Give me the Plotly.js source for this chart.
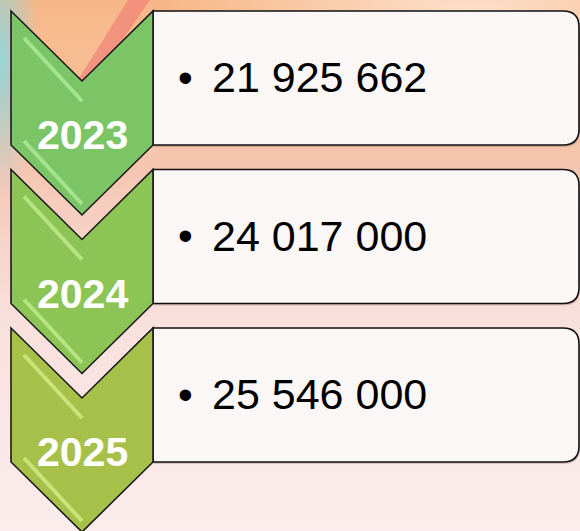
<!DOCTYPE html>
<html>
<head>
<meta charset="utf-8">
<script src="https://cdn.plot.ly/plotly-3.0.1.min.js"></script>
<style>
  html, body { margin:0; padding:0; width:580px; height:531px; overflow:hidden; }
  body {
    background:
      radial-gradient(ellipse 40px 140px at 0px 60px, rgba(140,215,225,0.9), rgba(140,215,225,0) 100%),
      radial-gradient(ellipse 300px 120px at 470px 10px, rgba(255,240,230,0.7), rgba(255,240,230,0) 100%),
      linear-gradient(to bottom, #f7b888 0%, #f6bf98 18%, #f6c6b2 32%, #f7d3c8 45%, #f9e0dc 60%, #fae7e7 80%, #fbeded 100%);
  }
  #chart { width:580px; height:531px; }
</style>
</head>
<body>
<div id="chart"></div>
<script>
// ---- data ----
const years = ["2023", "2024", "2025"];
const values = [21925662, 24017000, 25546000];
const chevronColors = ["#7cc566", "#8dc456", "#a6c04a"];
const glossColors = ["#b9f0a3", "#c8f296", "#def28e"];

function fmt(v) {
  return String(v).replace(/\B(?=(\d{3})+(?!\d))/g, " ");
}

// ---- layout geometry ----
const top0 = 11, pitch = 158.5;
const xl = 11, xr = 153, xc = 82, depth = 70, h = 134;
const boxR = 579, rad = 16;

const shapes = [];
const annotations = [];

// background decoration: soft red diagonal stroke behind the first chevron
shapes.push({type:"path", xref:"x", yref:"y", layer:"below",
  path:"M 128 0 L 150 0 L 95 80 L 78 80 Z",
  fillcolor:"rgba(238,120,115,0.6)", line:{width:0}});

years.forEach((yr, i) => {
  const t = top0 + i * pitch;
  // shadow of box
  shapes.push({type:"path", xref:"x", yref:"y",
    path:`M ${xr+1} ${t+2} L ${boxR-rad+1} ${t+2} Q ${boxR+1} ${t+2} ${boxR+1} ${t+rad+2} L ${boxR+1} ${t+h-rad+2} Q ${boxR+1} ${t+h+2} ${boxR-rad+1} ${t+h+2} L ${xr+1} ${t+h+2} Z`,
    fillcolor:"rgba(80,60,60,0.22)", line:{width:0}});
  // box
  shapes.push({type:"path", xref:"x", yref:"y",
    path:`M ${xr} ${t} L ${boxR-rad} ${t} Q ${boxR} ${t} ${boxR} ${t+rad} L ${boxR} ${t+h-rad} Q ${boxR} ${t+h} ${boxR-rad} ${t+h} L ${xr} ${t+h} Z`,
    fillcolor:"rgb(251,247,246)", line:{color:"#111", width:1.6}});
  // chevron
  shapes.push({type:"path", xref:"x", yref:"y",
    path:`M ${xl} ${t} L ${xc} ${t+depth} L ${xr} ${t} L ${xr} ${t+h} L ${xc} ${t+h+depth} L ${xl} ${t+h} Z`,
    fillcolor:chevronColors[i], line:{color:"#1a1a1a", width:1.6}});
  // gloss stripes
  shapes.push({type:"line", xref:"x", yref:"y",
    x0:xl+13, y0:t+27, x1:xc, y1:t+90,
    line:{color:glossColors[i], width:4}, opacity:0.7});
  shapes.push({type:"line", xref:"x", yref:"y",
    x0:xl+13, y0:t+130, x1:xc, y1:t+193,
    line:{color:glossColors[i], width:4}, opacity:0.7});

  // year label
  annotations.push({x:xc+0.5, y:t+124, xref:"x", yref:"y", text:"<b>"+yr+"</b>",
    showarrow:false, xanchor:"center", yanchor:"middle",
    font:{family:"Liberation Sans, Arial, sans-serif", size:41, color:"#ffffff"}});
  // bullet
  annotations.push({x:185, y:t+66, xref:"x", yref:"y", text:"•",
    showarrow:false, xanchor:"center", yanchor:"middle",
    font:{family:"Liberation Sans, Arial, sans-serif", size:42, color:"#000"}});
  // value
  annotations.push({x:210, y:t+66, xref:"x", yref:"y", text:fmt(values[i]),
    showarrow:false, xanchor:"left", yanchor:"middle",
    font:{family:"Liberation Sans, Arial, sans-serif", size:43, color:"#000"}});
});

const layout = {
  width:580, height:531,
  margin:{l:0, r:0, t:0, b:0},
  paper_bgcolor:"rgba(0,0,0,0)", plot_bgcolor:"rgba(0,0,0,0)",
  xaxis:{range:[0,580], visible:false, fixedrange:true},
  yaxis:{range:[531,0], visible:false, fixedrange:true},
  shapes:shapes, annotations:annotations, showlegend:false
};

Plotly.newPlot("chart", [{x:[], y:[], type:"scatter", mode:"markers", hoverinfo:"skip"}], layout, {displayModeBar:false, staticPlot:true});
</script>
</body>
</html>
